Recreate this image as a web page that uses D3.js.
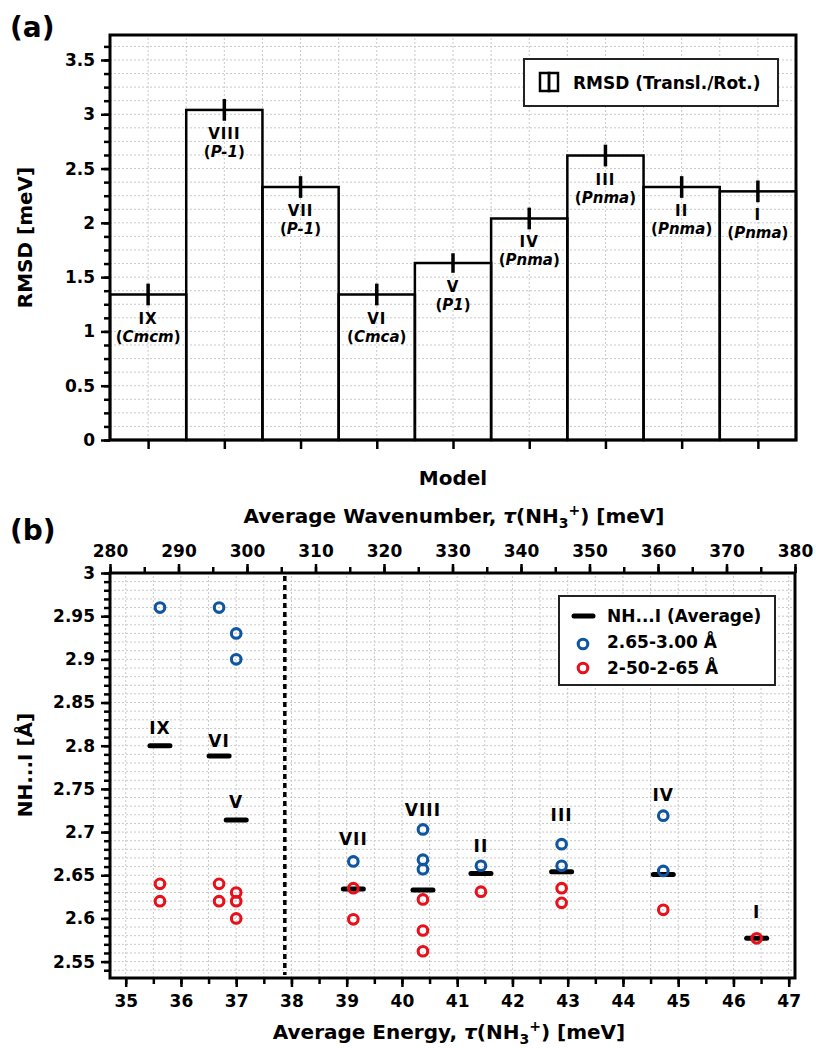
<!DOCTYPE html>
<html>
<head>
<meta charset="utf-8">
<script src="https://d3js.org/d3.v7.min.js"></script>
<style>
body { margin: 0; background: #fff; }
svg { font-family: "DejaVu Sans", Verdana, sans-serif; font-weight: bold; }
.grid line { stroke: #c8c8c8; stroke-width: 1; stroke-dasharray: 2,2; }
.axis path { display: none; }
.axis line { stroke: #000; stroke-width: 2.5; }
.axis text { font-size: 17px; font-weight: bold; fill: #000; font-family: "DejaVu Sans", Verdana, sans-serif; }
</style>
</head>
<body>
<svg id="chart"></svg>
<script>
// ---- (a) RMSD per model ----
var models      = [ 'IX', 'VIII', 'VII', 'VI', 'V', 'IV', 'III', 'II', 'I' ];
var spaceGroups = [ 'Cmcm', 'P-1', 'P-1', 'Cmca', 'P1', 'Pnma', 'Pnma', 'Pnma', 'Pnma' ];
var rmsd        = [ 1.34, 3.04, 2.33, 1.34, 1.63, 2.04, 2.62, 2.33, 2.29 ];
var rmsdErr     = [ 0.10, 0.10, 0.10, 0.10, 0.09, 0.10, 0.10, 0.10, 0.10 ];
var rmsdTicks   = [ 0, 0.5, 1, 1.5, 2, 2.5, 3, 3.5 ];

// ---- (b) NH...I distances vs torsion energy ----
var avgModels   = [ 'IX', 'VI', 'V', 'VII', 'VIII', 'II', 'III', 'IV', 'I' ];
var avgEnergy   = [ 35.62, 36.69, 37.0, 39.12, 40.38, 41.43, 42.89, 44.73, 46.42 ];
var avgDist     = [ 2.800, 2.788, 2.714, 2.634, 2.633, 2.652, 2.654, 2.651, 2.577 ];
var labelDist   = [ 2.820, 2.806, 2.735, 2.692, 2.726, 2.684, 2.720, 2.743, 2.608 ];

var longEnergy  = [ 35.62, 36.69, 37.0, 37.0, 39.12, 40.38, 40.38, 40.38, 41.43, 42.89, 42.89, 44.73, 44.73 ];
var longDist    = [ 2.96, 2.96, 2.93, 2.90, 2.666, 2.703, 2.668, 2.657, 2.661, 2.686, 2.661, 2.719, 2.655 ];

var shortEnergy = [ 35.62, 35.62, 36.69, 36.69, 37.0, 37.0, 37.0, 39.12, 39.12, 40.38, 40.38, 40.38, 41.43, 42.89, 42.89, 44.73, 46.42 ];
var shortDist   = [ 2.64, 2.62, 2.64, 2.62, 2.63, 2.62, 2.60, 2.635, 2.599, 2.622, 2.586, 2.562, 2.631, 2.635, 2.618, 2.610, 2.577 ];

var splitEnergy = 37.88;
var wnTicks     = [ 280, 290, 300, 310, 320, 330, 340, 350, 360, 370, 380 ];
var energyTicks = [ 35, 36, 37, 38, 39, 40, 41, 42, 43, 44, 45, 46, 47 ];
var distTicks   = [ 2.55, 2.6, 2.65, 2.7, 2.75, 2.8, 2.85, 2.9, 2.95, 3 ];

var CM_PER_MEV = 8.0655;
var blue = '#0f56a0';
var red  = '#e8101a';

var svg = d3.select( '#chart' )
    .attr( 'width', 816 )
    .attr( 'height', 1048 );

function fmt( d ) {
    return String( +d.toFixed( 2 ) );
}

// dotted grid helper
function drawGrid( xs, ys, sx, sy ) {
    var g = svg.append( 'g' ).attr( 'class', 'grid' );
    var x0 = sx.range()[0], x1 = sx.range()[1];
    var y0 = sy.range()[0], y1 = sy.range()[1];
    g.selectAll( 'line.v' ).data( xs ).enter().append( 'line' )
        .attr( 'class', 'v' )
        .attr( 'x1', function(d){ return sx(d); } )
        .attr( 'x2', function(d){ return sx(d); } )
        .attr( 'y1', y0 ).attr( 'y2', y1 );
    g.selectAll( 'line.h' ).data( ys ).enter().append( 'line' )
        .attr( 'class', 'h' )
        .attr( 'y1', function(d){ return sy(d); } )
        .attr( 'y2', function(d){ return sy(d); } )
        .attr( 'x1', x0 ).attr( 'x2', x1 );
}

// ================= Panel (a) =================
var a_left = 110, a_right = 796, a_top = 35, a_bottom = 440;

var scale_x_a = d3.scaleLinear()
    .domain( [ 0.5, models.length + 0.5 ] )
    .range( [ a_left, a_right ] );

var scale_y_a = d3.scaleLinear()
    .domain( [ 0, 3.73 ] )
    .range( [ a_bottom, a_top ] );

drawGrid(
    d3.range( 1, models.length * 2 ).map( function(i){ return 0.5 + i * 0.5; } ),
    d3.range( 1, 30 ).map( function(i){ return i * 0.125; } ),
    scale_x_a, scale_y_a
);

// bars
svg.append( 'g' )
    .selectAll( 'rect' )
    .data( rmsd )
    .enter()
    .append( 'rect' )
    .attr( 'x', function(d, i){ return scale_x_a( i + 0.5 ); } )
    .attr( 'y', function(d){ return scale_y_a( d ); } )
    .attr( 'width', scale_x_a( 1 ) - scale_x_a( 0 ) )
    .attr( 'height', function(d){ return a_bottom - scale_y_a( d ); } )
    .attr( 'fill', 'none' )
    .attr( 'stroke', '#000' )
    .attr( 'stroke-width', 2.5 );

// error bars
svg.append( 'g' )
    .selectAll( 'line' )
    .data( rmsd )
    .enter()
    .append( 'line' )
    .attr( 'x1', function(d, i){ return scale_x_a( i + 1 ); } )
    .attr( 'x2', function(d, i){ return scale_x_a( i + 1 ); } )
    .attr( 'y1', function(d, i){ return scale_y_a( d + rmsdErr[i] ); } )
    .attr( 'y2', function(d, i){ return scale_y_a( d - rmsdErr[i] ); } )
    .attr( 'stroke', '#000' )
    .attr( 'stroke-width', 3.5 );

// bar labels
var barLabels = svg.append( 'g' )
    .attr( 'text-anchor', 'middle' )
    .attr( 'font-size', 15 )
    .selectAll( 'text' )
    .data( rmsd )
    .enter()
    .append( 'text' )
    .attr( 'x', function(d, i){ return scale_x_a( i + 1 ); } )
    .attr( 'y', function(d){ return scale_y_a( d ) + 29; } );

barLabels.append( 'tspan' )
    .attr( 'letter-spacing', 1 )
    .text( function(d, i){ return models[i]; } );
barLabels.append( 'tspan' )
    .attr( 'x', function(d, i){ return scale_x_a( i + 1 ); } )
    .attr( 'dy', 18 )
    .text( '(' );
barLabels.append( 'tspan' )
    .attr( 'font-style', 'italic' )
    .text( function(d, i){ return spaceGroups[i]; } );
barLabels.append( 'tspan' )
    .text( ')' );

// axes (a)
svg.append( 'g' )
    .attr( 'class', 'axis' )
    .attr( 'transform', 'translate(' + a_left + ',0)' )
    .call( d3.axisLeft( scale_y_a ).tickValues( d3.range( 0, 30 ).map( function(i){ return i * 0.125; } ) ).tickSize( 6 ).tickFormat( '' ) );

svg.append( 'g' )
    .attr( 'class', 'axis' )
    .attr( 'transform', 'translate(' + a_left + ',0)' )
    .call( d3.axisLeft( scale_y_a ).tickValues( rmsdTicks ).tickSize( 9 ).tickPadding( 6 ).tickFormat( fmt ) );

svg.append( 'g' )
    .attr( 'class', 'axis' )
    .attr( 'transform', 'translate(0,' + a_bottom + ')' )
    .call( d3.axisBottom( scale_x_a ).tickValues( d3.range( 1, models.length + 1 ) ).tickSize( 9 ).tickFormat( '' ) );

// frame
svg.append( 'rect' )
    .attr( 'x', a_left ).attr( 'y', a_top )
    .attr( 'width', a_right - a_left ).attr( 'height', a_bottom - a_top )
    .attr( 'fill', 'none' ).attr( 'stroke', '#000' ).attr( 'stroke-width', 3 );

// legend (a)
var legA = svg.append( 'g' ).attr( 'transform', 'translate(524,59)' );
legA.append( 'rect' )
    .attr( 'width', 254 ).attr( 'height', 47 )
    .attr( 'fill', '#fff' ).attr( 'stroke', '#222' ).attr( 'stroke-width', 2 );
legA.append( 'rect' )
    .attr( 'x', 16 ).attr( 'y', 14 ).attr( 'width', 9 ).attr( 'height', 18 )
    .attr( 'fill', 'none' ).attr( 'stroke', '#000' ).attr( 'stroke-width', 2.5 );
legA.append( 'rect' )
    .attr( 'x', 25 ).attr( 'y', 14 ).attr( 'width', 9 ).attr( 'height', 18 )
    .attr( 'fill', 'none' ).attr( 'stroke', '#000' ).attr( 'stroke-width', 2.5 );
legA.append( 'text' )
    .attr( 'x', 49 ).attr( 'y', 30 )
    .attr( 'font-size', 17 )
    .text( 'RMSD (Transl./Rot.)' );

// titles (a)
svg.append( 'text' )
    .attr( 'x', 10 ).attr( 'y', 37 )
    .attr( 'font-size', 28 )
    .text( '(a)' );

svg.append( 'text' )
    .attr( 'transform', 'translate(32,' + ( ( a_top + a_bottom ) / 2 ) + ') rotate(-90)' )
    .attr( 'text-anchor', 'middle' )
    .attr( 'font-size', 20 )
    .text( 'RMSD [meV]' );

svg.append( 'text' )
    .attr( 'x', 453 ).attr( 'y', 485 )
    .attr( 'text-anchor', 'middle' )
    .attr( 'font-size', 20 )
    .text( 'Model' );

// ================= Panel (b) =================
var b_left = 110, b_right = 795, b_top = 573, b_bottom = 978;

var scale_wn = d3.scaleLinear()
    .domain( [ 280, 380 ] )
    .range( [ b_left, b_right ] );

var scale_e = d3.scaleLinear()
    .domain( [ 280 / CM_PER_MEV, 380 / CM_PER_MEV ] )
    .range( [ b_left, b_right ] );

var scale_d = d3.scaleLinear()
    .domain( [ 2.531, 3 ] )
    .range( [ b_bottom, b_top ] );

drawGrid(
    d3.range( 0, 25 ).map( function(i){ return 35 + i * 0.5; } ),
    d3.range( 0, 46 ).map( function(i){ return 2.54 + i * 0.01; } ),
    scale_e, scale_d
);

// dashed separator
svg.append( 'line' )
    .attr( 'x1', scale_e( splitEnergy ) ).attr( 'x2', scale_e( splitEnergy ) )
    .attr( 'y1', b_top + 3 ).attr( 'y2', b_bottom - 3 )
    .attr( 'stroke', '#000' ).attr( 'stroke-width', 3.5 )
    .attr( 'stroke-dasharray', '5,4' );

// average markers
svg.append( 'g' )
    .selectAll( 'line' )
    .data( avgEnergy )
    .enter()
    .append( 'line' )
    .attr( 'x1', function(d){ return scale_e( d ) - 10; } )
    .attr( 'x2', function(d){ return scale_e( d ) + 10; } )
    .attr( 'y1', function(d, i){ return scale_d( avgDist[i] ); } )
    .attr( 'y2', function(d, i){ return scale_d( avgDist[i] ); } )
    .attr( 'stroke', '#000' ).attr( 'stroke-width', 5 )
    .attr( 'stroke-linecap', 'round' );

// long contacts
svg.append( 'g' )
    .selectAll( 'circle' )
    .data( longEnergy )
    .enter()
    .append( 'circle' )
    .attr( 'cx', function(d){ return scale_e( d ); } )
    .attr( 'cy', function(d, i){ return scale_d( longDist[i] ); } )
    .attr( 'r', 4.8 )
    .attr( 'fill', 'none' ).attr( 'stroke', blue ).attr( 'stroke-width', 3.1 );

// short contacts
svg.append( 'g' )
    .selectAll( 'circle' )
    .data( shortEnergy )
    .enter()
    .append( 'circle' )
    .attr( 'cx', function(d){ return scale_e( d ); } )
    .attr( 'cy', function(d, i){ return scale_d( shortDist[i] ); } )
    .attr( 'r', 4.8 )
    .attr( 'fill', 'none' ).attr( 'stroke', red ).attr( 'stroke-width', 3.1 );

// model labels
svg.append( 'g' )
    .attr( 'text-anchor', 'middle' )
    .attr( 'font-size', 17 )
    .selectAll( 'text' )
    .data( avgModels )
    .enter()
    .append( 'text' )
    .attr( 'x', function(d, i){ return scale_e( avgEnergy[i] ); } )
    .attr( 'y', function(d, i){ return scale_d( labelDist[i] ) + 6; } )
    .attr( 'letter-spacing', 1 )
    .text( function(d){ return d; } );

// axes (b)
svg.append( 'g' )
    .attr( 'class', 'axis' )
    .attr( 'transform', 'translate(0,' + b_top + ')' )
    .call( d3.axisTop( scale_wn ).tickValues( d3.range( 0, 21 ).map( function(i){ return 280 + i * 5; } ) ).tickSize( 6 ).tickFormat( '' ) );
svg.append( 'g' )
    .attr( 'class', 'axis' )
    .attr( 'transform', 'translate(0,' + b_top + ')' )
    .call( d3.axisTop( scale_wn ).tickValues( wnTicks ).tickSize( 9 ).tickPadding( 7 ).tickFormat( fmt ) );

svg.append( 'g' )
    .attr( 'class', 'axis' )
    .attr( 'transform', 'translate(0,' + b_bottom + ')' )
    .call( d3.axisBottom( scale_e ).tickValues( d3.range( 0, 25 ).map( function(i){ return 35 + i * 0.5; } ) ).tickSize( 6 ).tickFormat( '' ) );
svg.append( 'g' )
    .attr( 'class', 'axis' )
    .attr( 'transform', 'translate(0,' + b_bottom + ')' )
    .call( d3.axisBottom( scale_e ).tickValues( energyTicks ).tickSize( 9 ).tickPadding( 8 ).tickFormat( fmt ) );

svg.append( 'g' )
    .attr( 'class', 'axis' )
    .attr( 'transform', 'translate(' + b_left + ',0)' )
    .call( d3.axisLeft( scale_d ).tickValues( d3.range( 0, 47 ).map( function(i){ return 2.54 + i * 0.01; } ) ).tickSize( 6 ).tickFormat( '' ) );
svg.append( 'g' )
    .attr( 'class', 'axis' )
    .attr( 'transform', 'translate(' + b_left + ',0)' )
    .call( d3.axisLeft( scale_d ).tickValues( distTicks ).tickSize( 9 ).tickPadding( 6 ).tickFormat( fmt ) );

// frame
svg.append( 'rect' )
    .attr( 'x', b_left ).attr( 'y', b_top )
    .attr( 'width', b_right - b_left ).attr( 'height', b_bottom - b_top )
    .attr( 'fill', 'none' ).attr( 'stroke', '#000' ).attr( 'stroke-width', 3 );

// legend (b)
var legB = svg.append( 'g' ).attr( 'transform', 'translate(559,596)' );
legB.append( 'rect' )
    .attr( 'width', 216 ).attr( 'height', 89 )
    .attr( 'fill', '#fff' ).attr( 'stroke', '#222' ).attr( 'stroke-width', 2 );
legB.append( 'line' )
    .attr( 'x1', 15 ).attr( 'x2', 34 ).attr( 'y1', 20 ).attr( 'y2', 20 )
    .attr( 'stroke', '#000' ).attr( 'stroke-width', 5 ).attr( 'stroke-linecap', 'round' );
legB.append( 'circle' )
    .attr( 'cx', 24 ).attr( 'cy', 48 ).attr( 'r', 4.8 )
    .attr( 'fill', 'none' ).attr( 'stroke', blue ).attr( 'stroke-width', 3.1 );
legB.append( 'circle' )
    .attr( 'cx', 24 ).attr( 'cy', 72 ).attr( 'r', 4.8 )
    .attr( 'fill', 'none' ).attr( 'stroke', red ).attr( 'stroke-width', 3.1 );
var legBText = [ 'NH...I (Average)', '2.65-3.00 Å', '2-50-2-65 Å' ];
legB.selectAll( 'text' )
    .data( legBText )
    .enter()
    .append( 'text' )
    .attr( 'x', 48 )
    .attr( 'y', function(d, i){ return 26 + i * 26; } )
    .attr( 'font-size', 17 )
    .text( function(d){ return d; } );

// titles (b)
svg.append( 'text' )
    .attr( 'x', 10 ).attr( 'y', 540 )
    .attr( 'font-size', 28 )
    .text( '(b)' );

function energyTitle( x, y, lead ) {
    var t = svg.append( 'text' )
        .attr( 'x', x ).attr( 'y', y )
        .attr( 'text-anchor', 'middle' )
        .attr( 'font-size', 20 );
    t.append( 'tspan' ).text( lead );
    t.append( 'tspan' ).attr( 'font-style', 'italic' ).text( 'τ' );
    t.append( 'tspan' ).text( '(NH' );
    t.append( 'tspan' ).attr( 'font-size', 14 ).attr( 'dy', 5 ).text( '3' );
    t.append( 'tspan' ).attr( 'font-size', 14 ).attr( 'dy', -13 ).text( '+' );
    t.append( 'tspan' ).attr( 'dy', 8 ).text( ') [meV]' );
}
energyTitle( 454, 523, 'Average Wavenumber, ' );
energyTitle( 449, 1039, 'Average Energy, ' );

svg.append( 'text' )
    .attr( 'transform', 'translate(32,' + 765 + ') rotate(-90)' )
    .attr( 'text-anchor', 'middle' )
    .attr( 'font-size', 20 )
    .text( 'NH...I [Å]' );
</script>
</body>
</html>
